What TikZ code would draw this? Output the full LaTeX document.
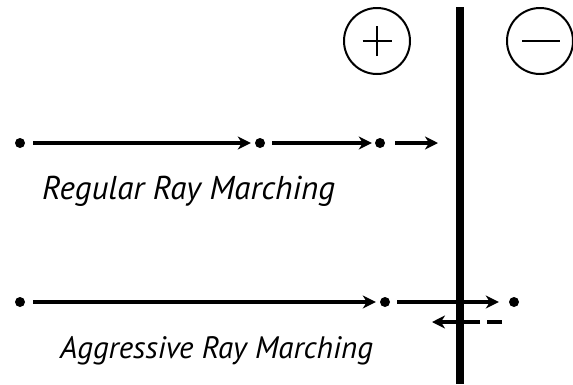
\documentclass[tikz,border=0pt]{standalone}
\usepackage{fontspec}
\setmainfont{PT Sans}
\usetikzlibrary{arrows.meta}
\begin{document}
\begin{tikzpicture}[x=1pt,y=1pt,
  dot/.style={circle,fill=black,inner sep=0pt,minimum size=10pt},
  ray/.style={line width=4.5pt,-{Stealth[length=13pt,width=13pt,inset=4pt]}},
  sign/.style={circle,draw,line width=2pt,minimum size=66pt,inner sep=0pt},
  lbl/.style={font=\itshape,inner sep=0pt,anchor=base west}]
\useasboundingbox (0,0) rectangle (573,-384);
% sign circles
\node[sign] (plus) at (377,-41) {};
\node[sign] (minus) at (540,-41) {};
\draw[line width=2pt] ([xshift=-14.5pt]plus.center) -- ([xshift=14.5pt]plus.center);
\draw[line width=2pt] ([yshift=-15pt]plus.center) -- ([yshift=15pt]plus.center);
\draw[line width=2pt] ([xshift=-18pt,yshift=0pt]minus.center) -- ([xshift=20pt]minus.center);
% regular ray marching
\node[dot] (r1) at (20,-143) {};
\node[dot] (r2) at (260,-143) {};
\node[dot] (r3) at (380,-143) {};
\coordinate (r4) at (438,-143);
\draw[ray,shorten <=8pt,shorten >=4pt] (r1) -- (r2);
\draw[ray,shorten <=7pt,shorten >=3pt] (r2) -- (r3);
\draw[ray,shorten <=10pt] (r3) -- (r4);
\node[lbl,font=\fontsize{33}{35}\selectfont\itshape] (regular) at (42,-199) {Regular Ray Marching};
% aggressive ray marching
\node[dot] (a1) at (20,-302) {};
\node[dot] (a2) at (385,-302) {};
\node[dot] (a3) at (514,-302) {};
\draw[ray,shorten <=8pt,shorten >=4pt] (a1) -- (a2);
\draw[ray,shorten <=7pt,shorten >=10pt] (a2) -- (a3);
\coordinate (b1) at (502,-322);
\coordinate (b2) at (432,-322);
\draw[ray,dash pattern=on 15pt off 7pt on 17pt off 6pt on 40pt] (b1) -- (b2);
\node[lbl,font=\fontsize{31}{33}\selectfont\itshape] (aggressive) at (60,-358) {Aggressive Ray Marching};
% surface
\coordinate (top) at (460,-7);
\coordinate (bottom) at (460,-384);
\draw[line width=8pt] (top) -- (bottom);
\end{tikzpicture}
\end{document}
